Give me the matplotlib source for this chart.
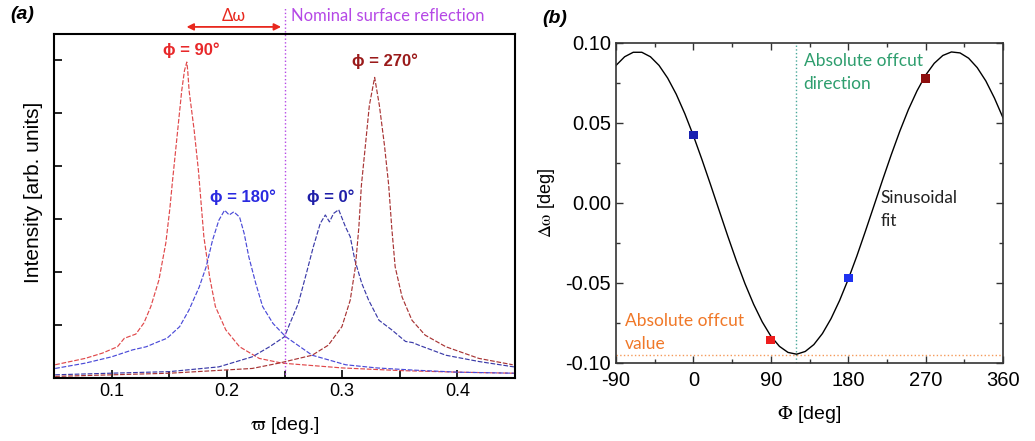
import matplotlib
matplotlib.use('Agg')
import matplotlib.pyplot as plt
from matplotlib.ticker import MultipleLocator

plt.rcParams['font.family'] = ['Liberation Sans', 'DejaVu Sans']
plt.rcParams['mathtext.fontset'] = 'stix'

# ---- panel (a): rocking curves at four azimuths ----
phi90_x = [0.051, 0.077, 0.092, 0.105, 0.111, 0.121, 0.128, 0.134, 0.141, 0.147, 0.1505, 0.1527,
           0.1573, 0.1608, 0.1632, 0.1652, 0.166, 0.1672, 0.1716, 0.1753, 0.180, 0.185, 0.190,
           0.199, 0.211, 0.228, 0.248, 0.300, 0.350, 0.400, 0.449]
phi90_y = [0.25, 0.37, 0.47, 0.59, 0.75, 0.83, 1.04, 1.35, 1.85, 2.55, 3.20, 3.70,
           4.68, 5.43, 5.81, 5.97, 5.81, 5.43, 4.68, 3.92, 2.67, 1.91, 1.35,
           0.91, 0.59, 0.37, 0.28, 0.19, 0.14, 0.11, 0.09]

phi180_x = [0.051, 0.077, 0.100, 0.118, 0.130, 0.141, 0.148, 0.159, 0.167, 0.176, 0.182, 0.1875,
            0.193, 0.198, 0.202, 0.206, 0.211, 0.215, 0.219, 0.225, 0.231, 0.240, 0.251, 0.274,
            0.303, 0.330, 0.361, 0.400, 0.449]
phi180_y = [0.18, 0.28, 0.40, 0.53, 0.59, 0.69, 0.75, 0.97, 1.28, 1.72, 2.10, 2.60,
            2.98, 3.17, 3.08, 3.14, 3.04, 2.73, 2.29, 1.79, 1.35, 1.03, 0.78, 0.43,
            0.25, 0.19, 0.15, 0.11, 0.09]

phi0_x = [0.051, 0.099, 0.150, 0.193, 0.222, 0.237, 0.250, 0.2535, 0.262, 0.269, 0.275, 0.281,
          0.2854, 0.289, 0.2926, 0.297, 0.303, 0.307, 0.311, 0.317, 0.323, 0.332, 0.343, 0.355,
          0.361, 0.3665, 0.390, 0.419, 0.449]
phi0_y = [0.06, 0.09, 0.12, 0.21, 0.40, 0.59, 0.78, 0.97, 1.41, 1.98, 2.48, 2.92,
          3.08, 2.95, 3.11, 3.18, 2.85, 2.67, 2.23, 1.79, 1.47, 1.09, 0.91, 0.69,
          0.67, 0.62, 0.43, 0.31, 0.21]

phi270_x = [0.051, 0.150, 0.222, 0.245, 0.274, 0.288, 0.2998, 0.307, 0.3115, 0.3145, 0.3167,
            0.3202, 0.3236, 0.3282, 0.3323, 0.3367, 0.3404, 0.343, 0.346, 0.352, 0.3606, 0.372,
            0.390, 0.4186, 0.448]
phi270_y = [0.03, 0.09, 0.18, 0.28, 0.43, 0.62, 0.97, 1.47, 2.10, 2.85, 3.64,
            4.40, 5.15, 5.68, 5.15, 4.40, 3.64, 2.85, 2.10, 1.53, 1.09, 0.81,
            0.59, 0.37, 0.25]

nominal_omega = 0.25

# ---- panel (b): peak shift vs azimuth ----
meas_phi = [0, 90, 180, 270]
meas_dw = [0.0425, -0.0856, -0.0469, 0.0777]
meas_colors = ['#1a22b0', '#ee1d1d', '#1e32f0', '#8e0f0f']

fit_phi = [-90, -80, -70, -60, -50, -40, -30, -20, -10, 0, 10, 20, 30, 40, 50, 60,
           70, 80, 90, 100, 110, 120, 130, 140, 150, 160, 170, 180, 190, 200, 210,
           220, 230, 240, 250, 260, 270, 280, 290, 300, 310, 320, 330, 340, 350, 360]
fit_dw = [0.0860, 0.0914, 0.0942, 0.0942, 0.0914, 0.0860, 0.0781, 0.0680, 0.0558,
          0.0420, 0.0270, 0.0113, -0.0048, -0.0208, -0.0362, -0.0505, -0.0633,
          -0.0743, -0.0832, -0.0896, -0.0934, -0.0945, -0.0928, -0.0885, -0.0816,
          -0.0723, -0.0609, -0.0477, -0.0332, -0.0176, -0.0016, 0.0145, 0.0301,
          0.0449, 0.0584, 0.0701, 0.0799, 0.0873, 0.0922, 0.0944, 0.0938, 0.0905,
          0.0846, 0.0763, 0.0656, 0.0532]

offcut_dir = 119
offcut_val = -0.0948

fig = plt.figure(figsize=(10.35, 4.41), dpi=100)

# ================= panel (a) =================
ax = fig.add_axes([0.0522, 0.1429, 0.4454, 0.780])
dash = (0, (4, 1.5))
ax.plot(phi90_x, phi90_y, color='#e0484a', lw=0.85, ls=dash)
ax.plot(phi180_x, phi180_y, color='#4a4ad8', lw=0.85, ls=dash)
ax.plot(phi0_x, phi0_y, color='#3a3aa8', lw=0.85, ls=dash)
ax.plot(phi270_x, phi270_y, color='#a83434', lw=0.85, ls=dash)

ax.set_xlim(0.05, 0.45)
ax.set_ylim(0, 6.5)
ax.xaxis.set_major_locator(MultipleLocator(0.1))
ax.xaxis.set_minor_locator(MultipleLocator(0.05))
ax.yaxis.set_major_locator(MultipleLocator(1))
ax.set_yticklabels([])
ax.tick_params(direction='in', labelsize=13, length=6, width=1.2)
ax.tick_params(which='minor', direction='in', length=5, width=1.2)
ax.set_xticks([0.1, 0.2, 0.3, 0.4])
ax.set_xticklabels(['0.1', '0.2', '0.3', '0.4'])
for s in ax.spines.values():
    s.set_linewidth(1.5)
ax.set_ylabel('Intensity [arb. units]', fontsize=15)
ax.yaxis.set_label_coords(-0.024, 0.54)
ax.set_xlabel(r'$\mathrm{\varpi}$ [deg.]', fontsize=14, labelpad=11)

# nominal surface reflection line extends above the frame
ax.axvline(nominal_omega, ymin=0, ymax=1.075, color='#b548e6', lw=1.0, ls=':', clip_on=False)
ax.annotate('', xy=(0.165, 0.939), xytext=(nominal_omega - 0.003, 0.939),
            xycoords=('data', 'figure fraction'), textcoords=('data', 'figure fraction'),
            arrowprops=dict(arrowstyle='<|-|>', color='#e8281e', lw=1.3,
                            mutation_scale=10, shrinkA=0, shrinkB=0))
fig.text(0.226, 0.964, 'Δω', color='#e8281e', fontsize=12, ha='center', va='center',
         family=['Lato', 'DejaVu Sans'])
fig.text(0.2815, 0.964, 'Nominal surface reflection', color='#b548e6', fontsize=12,
         ha='left', va='center', family=['Lato', 'DejaVu Sans'])

lbl = dict(fontsize=12, fontweight='bold', ha='center', va='center')
ax.text(0.169, 6.19, 'ϕ = 90°', color='#e8282a', **lbl)
ax.text(0.337, 5.98, 'ϕ = 270°', color='#9a1a1a', **lbl)
ax.text(0.2137, 3.42, 'ϕ = 180°', color='#2a2ae0', **lbl)
ax.text(0.290, 3.42, 'ϕ = 0°', color='#1e1ea8', **lbl)

fig.text(0.0097, 0.966, '(a)', fontsize=14, fontweight='bold', style='italic',
         ha='left', va='center')

# ================= panel (b) =================
bx = fig.add_axes([0.5952, 0.1769, 0.3739, 0.7256])
bx.plot(fit_phi, fit_dw, color='black', lw=1.0, zorder=2)
bx.axvline(offcut_dir, color='#4aa89a', lw=1.0, ls=':', zorder=1)
bx.axhline(offcut_val, color='#f59a5a', lw=1.0, ls=':', zorder=1)
bx.scatter(meas_phi, meas_dw, marker='s', s=40, c=meas_colors, zorder=3, linewidths=0)

bx.set_xlim(-90, 360)
bx.set_ylim(-0.10, 0.10)
bx.xaxis.set_minor_locator(MultipleLocator(45))
bx.yaxis.set_minor_locator(MultipleLocator(0.025))
bx.set_yticks([-0.10, -0.05, 0.00, 0.05, 0.10])
bx.set_yticklabels(['-0.10', '-0.05', '0.00', '0.05', '0.10'])
bx.set_xticks([-90, 0, 90, 180, 270, 360])
bx.set_xticklabels(['-90', '0', '90', '180', '270', '360'])
bx.tick_params(direction='in', top=True, right=True, labelsize=14.5, length=5, width=1.0,
               colors='#333333', labelcolor='black')
bx.tick_params(axis='x', pad=6)
bx.tick_params(which='minor', direction='in', top=True, right=True, length=3, width=1.0,
               colors='#333333')
for s in bx.spines.values():
    s.set_linewidth(1.2)
    s.set_color('#333333')
bx.set_ylabel(r'$\mathrm{\Delta\omega}$ [deg]', fontsize=13, labelpad=6)
bx.set_xlabel(r'$\Phi$ [deg]', fontsize=14, labelpad=10)

note = dict(fontsize=12.5, ha='left', va='top', family=['Lato', 'DejaVu Sans'], linespacing=1.5)
bx.text(128, 0.0935, 'Absolute offcut\ndirection', color='#2e9e6e', **note)
bx.text(218, 0.0080, 'Sinusoidal\nfit', color='#222222', **note)
bx.text(-80, -0.0690, 'Absolute offcut\nvalue', color='#f07828', **note)

fig.text(0.5237, 0.957, '(b)', fontsize=14, fontweight='bold', style='italic',
         ha='left', va='center')

fig.savefig('out.png', dpi=100)
